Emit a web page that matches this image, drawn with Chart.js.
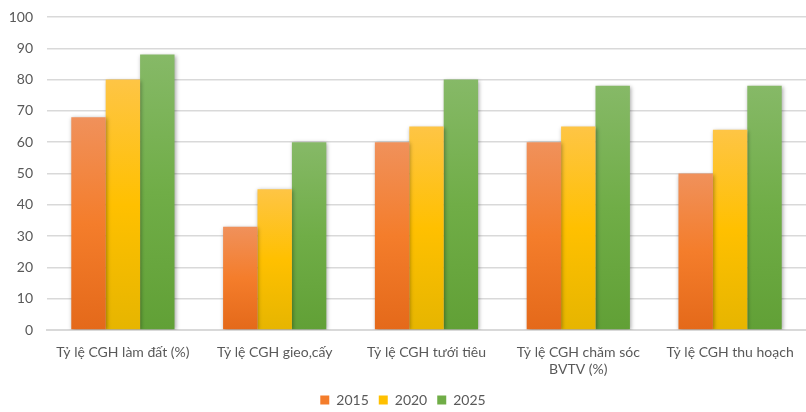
<!DOCTYPE html>
<html>
<head>
<meta charset="utf-8">
<script src="https://cdn.jsdelivr.net/npm/chart.js@4"></script>
<style>
  html, body { margin: 0; padding: 0; background: #fff; }
  #wrap { width: 806px; height: 412px; position: relative; }
</style>
</head>
<body>
<div id="wrap"><canvas id="chart"></canvas></div>
<script>
const categories = [
  "Tỷ lệ CGH làm đất (%)",
  "Tỷ lệ CGH gieo,cấy",
  "Tỷ lệ CGH tưới tiêu",
  ["Tỷ lệ CGH chăm sóc", "BVTV (%)"],
  "Tỷ lệ CGH thu hoạch"
];
const years = ["2015", "2020", "2025"];
const values2015 = [68, 33, 60, 60, 50];
const values2020 = [80, 45, 65, 65, 64];
const values2025 = [88, 60, 80, 78, 78];
const yTicks = [0, 10, 20, 30, 40, 50, 60, 70, 80, 90, 100];

// top tint, base, bottom shade
const palettes = [
  ["#F0915B", "#F47D2B", "#E4691A"],
  ["#FEC545", "#FFC000", "#E6B500"],
  ["#86B967", "#70AD47", "#61A036"]
];

const LEGEND_PAD = 10;
const LEGEND_SHIFT = 5;

function barFill(idx) {
  return (ctx) => {
    const chart = ctx.chart;
    const pal = palettes[idx];
    if (!chart.chartArea || ctx.type !== "data") {
      return pal[1];
    }
    const y = chart.scales.y;
    const top = y.getPixelForValue(ctx.raw);
    const bottom = y.getPixelForValue(0);
    if (!(bottom > top)) {
      return pal[1];
    }
    const g = chart.ctx.createLinearGradient(0, top, 0, bottom);
    g.addColorStop(0, pal[0]);
    g.addColorStop(0.5, pal[1]);
    g.addColorStop(1, pal[2]);
    return g;
  };
}

const barShadow = {
  id: "barShadow",
  beforeDatasetsDraw(chart) {
    const c = chart.ctx;
    c.save();
    c.shadowColor = "rgba(0,0,0,0.35)";
    c.shadowBlur = 4;
    c.shadowOffsetX = 1;
    c.shadowOffsetY = 1;
  },
  afterDatasetsDraw(chart) {
    chart.ctx.restore();
  }
};

// nudge the legend row down a little, like the original
const legendNudge = {
  id: "legendNudge",
  afterUpdate(chart) {
    const lg = chart.legend;
    lg.top += LEGEND_SHIFT;
    lg.bottom += LEGEND_SHIFT;
    (lg.legendHitBoxes || []).forEach((box) => { box.top += LEGEND_SHIFT; });
  }
};

const font = { family: "Lato", size: 14 };

new Chart(document.getElementById("chart"), {
  type: "bar",
  data: {
    labels: categories,
    datasets: [values2015, values2020, values2025].map((vals, i) => ({
      label: years[i],
      data: vals,
      backgroundColor: barFill(i),
      borderWidth: 0,
      categoryPercentage: 0.68,
      barPercentage: 1
    }))
  },
  options: {
    responsive: true,
    maintainAspectRatio: false,
    animation: false,
    layout: { padding: 0 },
    plugins: {
      tooltip: { enabled: false },
      legend: {
        position: "bottom",
        labels: {
          color: "#595959",
          font: font,
          boxWidth: 9,
          boxHeight: 9,
          padding: LEGEND_PAD,
          generateLabels: (chart) => chart.data.datasets.map((ds, i) => ({
            text: ds.label,
            fillStyle: palettes[i][1],
            strokeStyle: palettes[i][1],
            lineWidth: 0,
            datasetIndex: i,
            fontColor: "#595959"
          }))
        }
      }
    },
    scales: {
      x: {
        grid: { display: false },
        border: { color: "#D9D9D9", width: 2 },
        ticks: { color: "#595959", font: font, maxRotation: 0, autoSkip: false, padding: 6, lineHeight: 1.4 },
        afterFit: (scale) => { scale.height = 412 - 330 - (24 + LEGEND_PAD); }
      },
      y: {
        min: 0,
        max: 100,
        afterBuildTicks: (scale) => { scale.ticks = yTicks.map((v) => ({ value: v })); },
        grid: { color: "#D9D9D9", lineWidth: 1.5, drawTicks: false },
        border: { display: false },
        ticks: { color: "#595959", font: font, padding: 14 },
        afterFit: (scale) => {
          scale.width = 47;
          scale.paddingTop = 17;
          scale.paddingBottom = 0;
        }
      }
    }
  },
  plugins: [barShadow, legendNudge]
});
</script>
</body>
</html>
